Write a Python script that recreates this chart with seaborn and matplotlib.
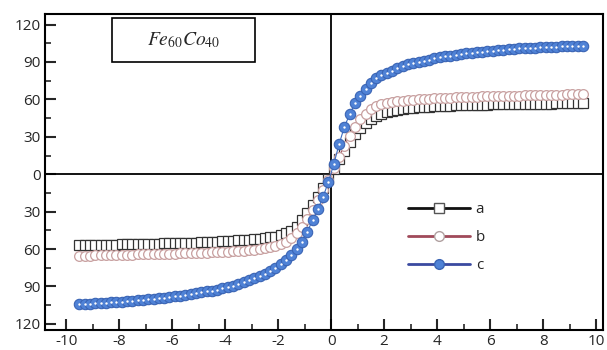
import numpy as np
import pandas as pd
import matplotlib
matplotlib.use('Agg')
import matplotlib.pyplot as plt
from matplotlib.lines import Line2D
from matplotlib.patches import Rectangle
from matplotlib.ticker import MultipleLocator, FuncFormatter
import seaborn as sns

# field values (negative branch, then positive branch)
x_neg = [-9.5, -9.3, -9.1, -8.9, -8.7, -8.5, -8.3, -8.1, -7.9, -7.7, -7.5, -7.3,
         -7.1, -6.9, -6.7, -6.5, -6.3, -6.1, -5.9, -5.7, -5.5, -5.3, -5.1, -4.9,
         -4.7, -4.5, -4.3, -4.1, -3.9, -3.7, -3.5, -3.3, -3.1, -2.9, -2.7, -2.5,
         -2.3, -2.1, -1.9, -1.7, -1.5, -1.3, -1.1, -0.9, -0.7, -0.5, -0.3, -0.1]
x_pos = [0.1, 0.3, 0.5, 0.7, 0.9, 1.1, 1.3, 1.5, 1.7, 1.9, 2.1, 2.3,
         2.5, 2.7, 2.9, 3.1, 3.3, 3.5, 3.7, 3.9, 4.1, 4.3, 4.5, 4.7,
         4.9, 5.1, 5.3, 5.5, 5.7, 5.9, 6.1, 6.3, 6.5, 6.7, 6.9, 7.1,
         7.3, 7.5, 7.7, 7.9, 8.1, 8.3, 8.5, 8.7, 8.9, 9.1, 9.3, 9.5]

a_neg = [-57, -57, -56.9, -56.8, -56.7, -56.6, -56.5, -56.4, -56.3, -56.2, -56.1, -56,
         -55.9, -55.8, -55.7, -55.6, -55.5, -55.4, -55.3, -55.2, -55.1, -55, -54.8, -54.7,
         -54.5, -54.3, -54.1, -53.9, -53.7, -53.4, -53.1, -52.8, -52.5, -52.1, -51.7, -51.2,
         -50.7, -50, -49, -47.5, -45.5, -42, -37, -31, -25, -18, -11, -4]
a_pos = [4, 12, 19, 26, 32, 37, 41, 44, 46.5, 48.5, 50, 51,
         51.8, 52.4, 52.9, 53.3, 53.7, 54, 54.3, 54.5, 54.7, 54.9, 55.1, 55.3,
         55.4, 55.5, 55.6, 55.7, 55.8, 55.9, 56, 56.1, 56.2, 56.3, 56.4, 56.4,
         56.5, 56.5, 56.6, 56.6, 56.7, 56.7, 56.8, 56.8, 56.9, 56.9, 57, 57]

b_neg = [-65.5, -65.4, -65.3, -65.2, -65.1, -65, -64.9, -64.8, -64.7, -64.6, -64.5, -64.4,
         -64.3, -64.2, -64.1, -64, -63.9, -63.8, -63.7, -63.6, -63.5, -63.4, -63.2, -63.1,
         -62.9, -62.7, -62.5, -62.3, -62.1, -61.8, -61.5, -61.2, -60.8, -60.4, -59.9, -59.3,
         -58.5, -57.5, -56, -54, -51, -47, -42, -36, -29, -21, -13, -5]
b_pos = [5, 14, 23, 31, 38, 44, 48.5, 52, 54.5, 56, 57, 57.8,
         58.4, 58.9, 59.3, 59.7, 60, 60.3, 60.6, 60.9, 61.1, 61.3, 61.5, 61.7,
         61.9, 62, 62.2, 62.3, 62.4, 62.5, 62.6, 62.7, 62.8, 62.9, 63, 63.1,
         63.2, 63.3, 63.4, 63.5, 63.6, 63.7, 63.8, 63.9, 64, 64.1, 64.2, 64.3]

c_neg = [-104.2, -104, -103.8, -103.6, -103.4, -103.2, -102.9, -102.6, -102.3, -102, -101.6, -101.2,
         -100.8, -100.4, -100, -99.5, -99, -98.5, -98, -97.4, -96.8, -96.2, -95.5, -94.8,
         -94, -93.3, -92.5, -91.5, -90.5, -89.5, -88, -86.5, -85, -83.5, -82, -80,
         -77.5, -75, -72, -69, -65, -60, -54, -46, -37, -28, -18, -6]
c_pos = [8, 24, 38, 48, 57, 63, 68, 73, 77, 79.5, 81.5, 83,
         85, 86.5, 88, 89, 90, 91, 92, 93, 93.8, 94.5, 95.2, 95.8,
         96.4, 97, 97.5, 98, 98.4, 98.8, 99.2, 99.6, 100, 100.3, 100.6, 100.9,
         101.2, 101.4, 101.6, 101.8, 102, 102.2, 102.4, 102.5, 102.6, 102.7, 102.8, 103]

field = x_neg + x_pos
df = pd.DataFrame({
    'H': field * 3,
    'M': a_neg + a_pos + b_neg + b_pos + c_neg + c_pos,
    'sample': ['a'] * len(field) + ['b'] * len(field) + ['c'] * len(field),
})

sns.set_style('white')
plt.rcParams['font.family'] = ['Open Sans', 'DejaVu Sans']
plt.rcParams['axes.unicode_minus'] = False
plt.rcParams['mathtext.fontset'] = 'stix'

fig = plt.figure(figsize=(6.07, 3.5), dpi=100)
ax = fig.add_axes([0.074, 0.057, 0.919, 0.903])

da = df[df['sample'] == 'a']
db = df[df['sample'] == 'b']
dc = df[df['sample'] == 'c']

sns.lineplot(data=da, x='H', y='M', ax=ax, color='#222222', lw=0.8,
             marker='s', markersize=6.5, markerfacecolor='white',
             markeredgecolor='#333333', markeredgewidth=0.9)
sns.lineplot(data=db, x='H', y='M', ax=ax, color='#a04a5a', lw=0.8,
             marker='o', markersize=7, markerfacecolor='white',
             markeredgecolor='#c8a0a0', markeredgewidth=0.9)
sns.lineplot(data=dc, x='H', y='M', ax=ax, color='#3d6cc0', lw=0.8,
             marker='o', markersize=7.5, markerfacecolor='#4f82d6',
             markeredgecolor='#3a64b4', markeredgewidth=0.8)
sns.scatterplot(data=dc, x='H', y='M', ax=ax, color='white', s=3,
                linewidth=0, zorder=5)

ax.axhline(0, color='black', lw=1.3, zorder=1)
ax.axvline(0, color='black', lw=1.3, zorder=1)

ax.set_xlim(-10.8, 10.25)
ax.set_ylim(-125, 128.5)
ax.xaxis.set_major_locator(MultipleLocator(2))
ax.xaxis.set_minor_locator(MultipleLocator(1))
ax.yaxis.set_major_locator(MultipleLocator(30))
ax.yaxis.set_minor_locator(MultipleLocator(15))
ax.yaxis.set_major_formatter(FuncFormatter(lambda v, p: f'{abs(v):.0f}'))
ax.tick_params(which='major', direction='in', length=8, width=1.5,
               labelsize=11, pad=3, bottom=True, left=True)
ax.tick_params(which='minor', direction='in', length=4, width=1.2,
               bottom=True, left=True)
ax.set_xlabel('')
ax.set_ylabel('')
for s in ax.spines.values():
    s.set_linewidth(1.5)
    s.set_color('black')

ax.add_patch(Rectangle((0.12, 0.848), 0.256, 0.139, transform=ax.transAxes,
                       facecolor='white', edgecolor='black', lw=1.2, zorder=6))
ax.text(0.248, 0.917, r'$Fe_{60}Co_{40}$', transform=ax.transAxes,
        fontsize=14, ha='center', va='center', zorder=7)

handles = [
    Line2D([], [], color='#111111', lw=2, marker='s', markersize=7,
           markerfacecolor='white', markeredgecolor='#555555'),
    Line2D([], [], color='#a04a5a', lw=2, marker='o', markersize=7,
           markerfacecolor='white', markeredgecolor='#b0a0a0'),
    Line2D([], [], color='#3a4aa0', lw=2, marker='o', markersize=7,
           markerfacecolor='#4f82d6', markeredgecolor='#3a64b4'),
]
ax.legend(handles, ['a', 'b', 'c'], loc='upper left',
          bbox_to_anchor=(0.627, 0.448), frameon=False, fontsize=11,
          handlelength=4, labelspacing=0.85, handletextpad=0.4)

fig.savefig('out.png', dpi=100)
